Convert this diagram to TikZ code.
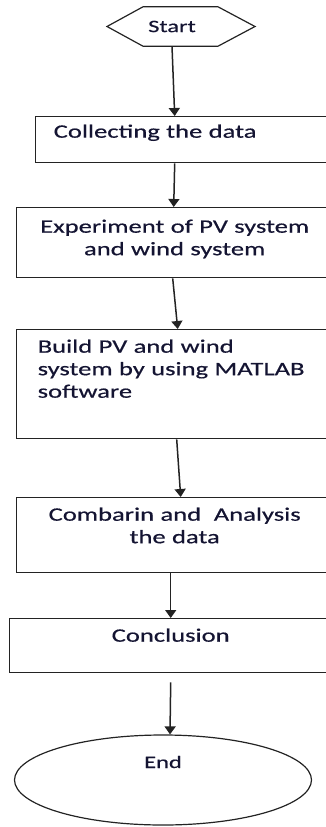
\documentclass[tikz,border=0pt]{standalone}
\usepackage{fontspec}
\setmainfont{Carlito}[FakeStretch=1.4,FakeBold=0.5]
\usetikzlibrary{arrows.meta,shapes.geometric}
\definecolor{ink}{RGB}{20,20,50}
\definecolor{edge}{RGB}{35,35,35}
\tikzset{
    %Define standard arrow tip
    >={Triangle[width=11pt,length=8pt]},
    % Define arrow style
    flow/.style={
           ->,
           draw=edge,
           line width=1.5pt},
    % Define process box style
    stepbox/.style={
           rectangle,
           draw=edge,
           line width=1.4pt,
           anchor=north west,
           inner ysep=6pt,
           text=ink,
           font=\fontsize{19}{22.5}\selectfont},
    endoval/.style={
           ellipse,
           draw=edge,
           line width=1.2pt,
           minimum width=297pt,
           minimum height=90pt,
           inner sep=0pt,
           text=ink,
           font=\fontsize{17.5}{21}\selectfont}
}
\begin{document}
\begin{tikzpicture}[x=1pt,y=-1pt]
\useasboundingbox (0,0) rectangle (326,827);

\node[minimum height=39pt, inner sep=0pt, text=ink,
font=\fontsize{17.5}{21}\selectfont] (start) at (172,26.5) {Start};
\draw[draw=edge, line width=1.2pt] ([xshift=-65pt]start.center) -- ([xshift=-29pt]start.north)
-- ([xshift=46pt]start.north) -- ([xshift=83pt]start.center)
-- ([xshift=46pt]start.south) -- ([xshift=-29pt]start.south) -- cycle;

\node[stepbox, text width=263pt, inner xsep=18pt, align=left,
text height=15pt, text depth=19pt] (collect) at (35,116) {Collecting the data};

\node[stepbox, text width=300pt, inner xsep=8pt, align=center,
text height=19pt, text depth=39pt] (experiment) at (16,207) {Experiment of PV system\\and wind system};

\node[stepbox, text width=280pt, inner xsep=21pt, align=left,
text height=17pt, text depth=80pt] (build) at (16,329) {Build PV and wind\\system by using MATLAB\\software};

\node[stepbox, text width=300pt, inner xsep=8pt, align=center,
text height=17pt, text depth=46pt] (combine) at (16,497) {Combarin and~ Analysis\\the data};

\node[stepbox, text width=306pt, inner xsep=8pt, align=center,
text height=17pt, text depth=25pt] (conclude) at (9,618) {Conclusion};

\node[endoval, text height=11pt, text depth=35pt] (finish) at (163,780) {End};

\draw[flow] (start.south) -- ([xshift=-10.5pt]collect.north);
\draw[flow] ([xshift=-10.5pt]collect.south) -- ([xshift=-1pt]experiment.north);
\draw[flow] ([xshift=-2pt]experiment.south) -- (build.north);
\draw[flow] ([xshift=-1pt]build.south) -- ([xshift=6pt]combine.north);
\draw[flow] ([xshift=-4pt]combine.south) -- (conclude.north);
\draw[flow] ([yshift=-9pt]conclude.south) -- ([xshift=7pt]finish.north);

\end{tikzpicture}
\end{document}
